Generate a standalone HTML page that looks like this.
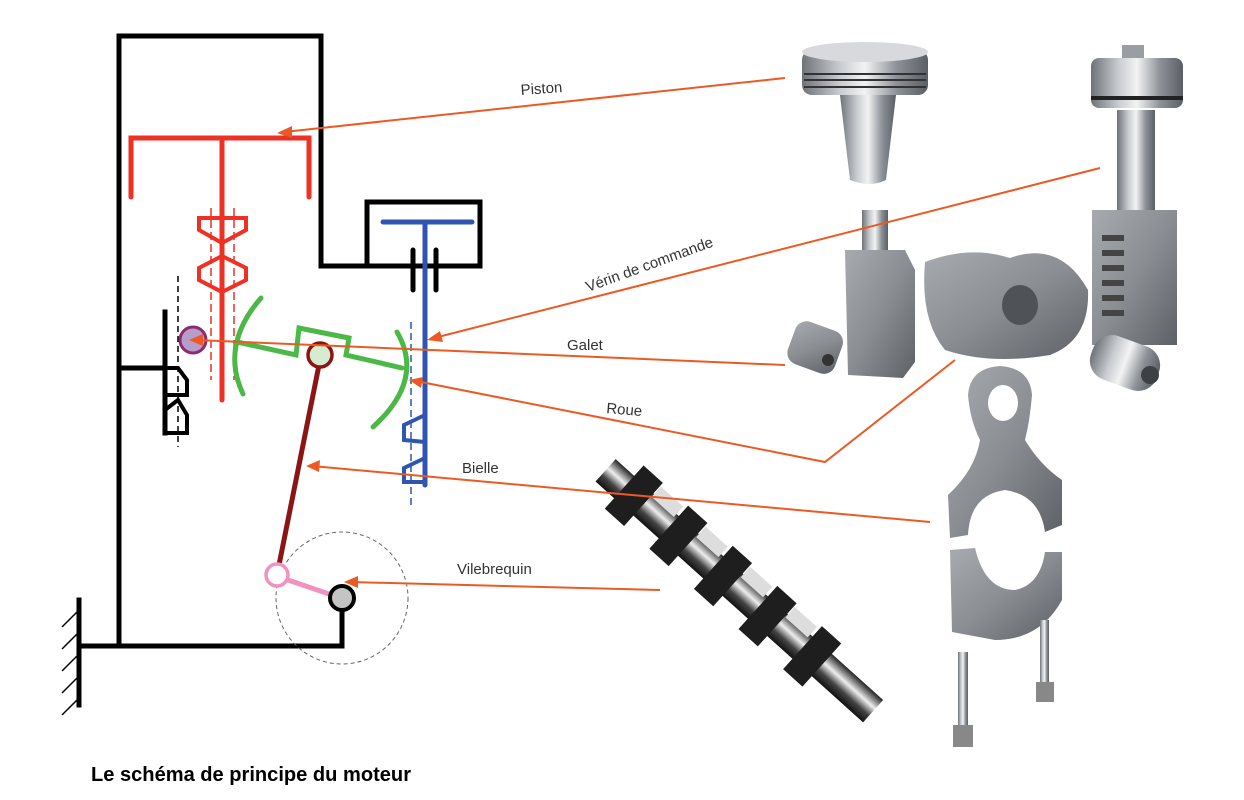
<!DOCTYPE html>
<html><head><meta charset="utf-8"><style>
html,body{margin:0;padding:0;background:#fff;}
svg{display:block;}
text{font-family:"Liberation Sans",sans-serif;}
</style></head><body>
<svg width="1244" height="800" viewBox="0 0 1244 800" xmlns="http://www.w3.org/2000/svg">
<defs>
<linearGradient id="met" x1="0" x2="1" y1="0" y2="0">
<stop offset="0" stop-color="#6e7378"/><stop offset="0.3" stop-color="#c9ccd0"/><stop offset="0.5" stop-color="#f2f3f4"/><stop offset="0.75" stop-color="#8d9298"/><stop offset="1" stop-color="#5a5f65"/>
</linearGradient>
<linearGradient id="gr" x1="0" x2="1" y1="0" y2="1">
<stop offset="0" stop-color="#a7abaf"/><stop offset="0.5" stop-color="#8a8e93"/><stop offset="1" stop-color="#5d6166"/>
</linearGradient>
<linearGradient id="crank" x1="0" x2="0" y1="0" y2="1">
<stop offset="0" stop-color="#222"/><stop offset="0.4" stop-color="#eee"/><stop offset="0.7" stop-color="#444"/><stop offset="1" stop-color="#111"/>
</linearGradient>
</defs>

<g stroke="#000" stroke-width="5" fill="none" stroke-linecap="square">
<polyline points="119,643 119,36 321,36 321,266 480,266 480,202 367,202 367,266"/>
<line x1="80" y1="646" x2="342" y2="646"/>
<line x1="342" y1="646" x2="342" y2="610"/>
<line x1="79" y1="600" x2="79" y2="705"/>
<line x1="119" y1="368" x2="165" y2="368"/>
<line x1="165" y1="312" x2="165" y2="433"/>
<polyline points="165,368 178,368 187,380 187,395 165,395" stroke-width="4"/>
<polyline points="165,410 178,400 187,415 187,433 165,433" stroke-width="4"/>
<line x1="413" y1="250" x2="413" y2="290" stroke-linecap="round"/>
<line x1="436" y1="250" x2="436" y2="290" stroke-linecap="round"/>
</g>
<g stroke="#000" stroke-width="1.5">
<line x1="79" y1="610" x2="62" y2="627"/><line x1="79" y1="632" x2="62" y2="649"/><line x1="79" y1="654" x2="62" y2="671"/><line x1="79" y1="676" x2="62" y2="693"/><line x1="79" y1="698" x2="62" y2="715"/>
</g>
<line x1="178" y1="276" x2="178" y2="447" stroke="#000" stroke-width="1.5" stroke-dasharray="6,4"/>

<g stroke="#ee3124" stroke-width="5" fill="none" stroke-linecap="round">
<polyline points="131,197 131,138 309,138 309,197"/>
<line x1="222" y1="138" x2="222" y2="400"/>
<polygon points="199,218 246,218 246,230 222,243 199,230" stroke-width="4"/>
<polygon points="222,256 246,268 246,280 222,292 199,280 199,268" stroke-width="4"/>
</g>
<g stroke="#ee3124" stroke-width="1.5" stroke-dasharray="8,4">
<line x1="211" y1="208" x2="211" y2="380"/><line x1="234" y1="208" x2="234" y2="380"/>
</g>

<g stroke="#2f55b0" stroke-width="5" fill="none" stroke-linecap="round">
<line x1="383" y1="222" x2="472" y2="222"/>
<line x1="425" y1="222" x2="425" y2="485"/>
<polyline points="425,415 404,425 404,440 425,442" stroke-width="4"/>
<polyline points="425,458 404,468 404,482 425,482" stroke-width="4"/>
</g>
<line x1="411" y1="322" x2="411" y2="505" stroke="#2f55b0" stroke-width="1.5" stroke-dasharray="7,4"/>

<g stroke="#4cb848" stroke-width="5" fill="none" stroke-linecap="round">
<path d="M261,298 Q220,345 243,394"/>
<path d="M397,332 Q425,380 373,427"/>
<polyline points="237,342 296,355 299,328 349,338 346,355 402,368"/>
</g>

<circle cx="193" cy="340" r="13" fill="#b79ccc" stroke="#8c2b6d" stroke-width="3"/>

<line x1="319" y1="365" x2="279" y2="565" stroke="#8b1414" stroke-width="5"/>
<circle cx="320" cy="355" r="12" fill="#d5ecd1" stroke="#8b1414" stroke-width="3.5"/>

<circle cx="342" cy="598" r="66" fill="none" stroke="#666" stroke-width="1" stroke-dasharray="4,3"/>
<line x1="285" y1="579" x2="332" y2="595" stroke="#f193c0" stroke-width="5"/>
<circle cx="277" cy="575" r="11" fill="#fff" stroke="#f193c0" stroke-width="3.5"/>
<circle cx="342" cy="598" r="12" fill="#c4c4c4" stroke="#000" stroke-width="4"/>

<!-- piston -->
<path d="M840,95 L896,95 L886,180 Q870,188 850,180 Z" fill="url(#met)"/>
<rect x="802" y="50" width="126" height="45" rx="10" fill="url(#met)"/>
<ellipse cx="865" cy="52" rx="63" ry="10" fill="#d7d9dc"/>
<g stroke="#333" stroke-width="2"><line x1="804" y1="74" x2="926" y2="74"/><line x1="804" y1="80" x2="926" y2="80"/><line x1="804" y1="87" x2="926" y2="87"/></g>
<!-- cylinder part -->
<rect x="1122" y="45" width="22" height="20" fill="#9a9ea2"/>
<rect x="1091" y="58" width="92" height="50" rx="8" fill="url(#met)"/>
<rect x="1091" y="96" width="92" height="4" fill="#222"/>
<rect x="1117" y="110" width="38" height="100" fill="url(#met)"/>
<rect x="1092" y="210" width="85" height="135" fill="url(#gr)"/>
<g fill="#444"><rect x="1102" y="235" width="22" height="6"/><rect x="1102" y="250" width="22" height="6"/><rect x="1102" y="265" width="22" height="6"/><rect x="1102" y="280" width="22" height="6"/><rect x="1102" y="295" width="22" height="6"/><rect x="1102" y="310" width="22" height="6"/></g>
<!-- rack block -->
<rect x="862" y="210" width="26" height="45" fill="url(#met)"/>
<path d="M845,250 L905,250 L915,270 L915,362 L903,378 L848,375 Z" fill="url(#gr)"/>
<!-- small gear -->
<rect x="790" y="325" width="50" height="45" rx="12" fill="url(#gr)" transform="rotate(20 815 348)"/>
<circle cx="828" cy="360" r="6" fill="#333"/>
<!-- wheel -->
<path d="M925,262 Q970,245 1010,258 Q1060,240 1088,290 Q1090,340 1050,355 Q990,365 945,350 Q920,320 925,262 Z" fill="url(#gr)"/>
<ellipse cx="1020" cy="305" rx="18" ry="20" fill="#4f5357"/>
<!-- pin -->
<rect x="1090" y="340" width="70" height="46" rx="20" fill="url(#met)" transform="rotate(20 1125 363)"/>
<circle cx="1150" cy="375" r="9" fill="#3d4044"/>
<!-- connecting rod -->
<path d="M968,395 Q970,368 1000,366 Q1030,368 1032,395 Q1030,420 1025,440 Q1040,465 1062,480 L1062,525 L1045,532 Q1040,495 1005,490 Q970,495 968,535 L950,538 L948,495 Q975,470 980,440 Q970,420 968,395 Z" fill="url(#gr)"/>
<ellipse cx="1003" cy="403" rx="15" ry="18" fill="#fff"/>
<path d="M950,550 L975,548 Q985,590 1015,590 Q1040,585 1045,552 L1062,552 L1062,600 Q1040,640 995,640 L952,632 Z" fill="url(#gr)"/>
<rect x="958" y="652" width="10" height="80" fill="url(#met)"/>
<rect x="953" y="725" width="20" height="22" fill="#888"/>
<rect x="1040" y="620" width="9" height="70" fill="url(#met)"/>
<rect x="1036" y="682" width="18" height="20" fill="#888"/>
<!-- crankshaft -->
<g transform="rotate(42 740 590)">
<rect x="560" y="576" width="360" height="30" fill="url(#crank)"/>
<g fill="#1e1e1e"><rect x="585" y="562" width="26" height="58"/><rect x="645" y="562" width="26" height="58"/><rect x="705" y="562" width="26" height="58"/><rect x="765" y="562" width="26" height="58"/><rect x="825" y="562" width="26" height="58"/></g>
<g fill="#ddd"><rect x="612" y="566" width="30" height="14"/><rect x="672" y="566" width="30" height="14"/><rect x="732" y="566" width="30" height="14"/><rect x="792" y="566" width="30" height="14"/></g>
</g>

<g stroke="#ec5a24" stroke-width="2" fill="none">
<line x1="785" y1="78" x2="284" y2="132"/>
<line x1="1100" y1="168" x2="434" y2="338"/>
<line x1="785" y1="365" x2="196" y2="340"/>
<polyline points="955,360 825,462 416,381"/>
<line x1="930" y1="522" x2="312" y2="466"/>
<line x1="660" y1="590" x2="350" y2="582"/>
</g>
<g fill="#ec5a24">
<polygon points="277,133 292,126 292,138"/>
<polygon points="427,340 440,331 443,342"/>
<polygon points="189,340 203,334 203,346"/>
<polygon points="409,380 423,377 421,388"/>
<polygon points="306,466 320,460 319,472"/>
<polygon points="344,582 358,576 358,588"/>
</g>

<g fill="#333" font-size="15">
<text x="521" y="95" transform="rotate(-4 521 95)">Piston</text>
<text x="588" y="292" transform="rotate(-20 588 292)">Vérin de commande</text>
<text x="567" y="350">Galet</text>
<text x="606" y="413" transform="rotate(5 606 413)">Roue</text>
<text x="462" y="473">Bielle</text>
<text x="457" y="574">Vilebrequin</text>
</g>
<text x="91" y="781" font-size="20" font-weight="bold" fill="#000" textLength="320" lengthAdjust="spacingAndGlyphs">Le schéma de principe du moteur</text>
</svg>
</body></html>
